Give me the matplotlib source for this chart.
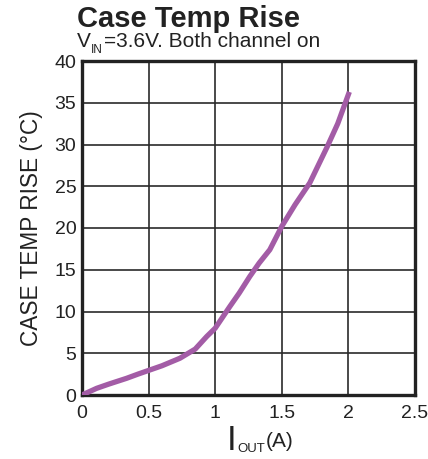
import matplotlib
matplotlib.use("Agg")
import matplotlib.pyplot as plt

plt.rcParams['font.family'] = ['Liberation Sans', 'DejaVu Sans']

# current (A) vs case temperature rise (°C)
iout = [0.0, 0.11, 0.2, 0.335, 0.42, 0.51, 0.6, 0.735, 0.85, 0.936, 1.0,
        1.11, 1.18, 1.26, 1.33, 1.41, 1.5, 1.6, 1.71, 1.84, 1.92, 2.007]
rise = [0.0, 0.8, 1.3, 2.0, 2.5, 3.0, 3.5, 4.4, 5.5, 7.0, 8.0,
        10.6, 12.2, 14.2, 15.8, 17.4, 20.2, 22.8, 25.4, 29.7, 32.5, 36.3]

xticks = [0, 0.5, 1, 1.5, 2, 2.5]
xticklabels = ['0', '0.5', '1', '1.5', '2', '2.5']
yticks = [0, 5, 10, 15, 20, 25, 30, 35, 40]

W, H = 428, 459
fig = plt.figure(figsize=(W / 100, H / 100), dpi=100)
ax = fig.add_axes([82/W, 1 - 395/H, (415-82)/W, (395-61)/H])

ax.plot(iout, rise, color='#a35ca6', lw=3.8, solid_capstyle='butt', zorder=3)

ax.set_xlim(0, 2.5)
ax.set_ylim(0, 40)
ax.set_xticks(xticks)
ax.set_xticklabels(xticklabels)
ax.set_yticks(yticks)
ax.grid(True, color='#2a2a2a', lw=1.2)
ax.tick_params(length=0, labelsize=14, colors='#222222')
ax.tick_params(axis='x', pad=7)
ax.tick_params(axis='y', pad=4)
for s in ax.spines.values():
    s.set_linewidth(2.4)
    s.set_color('#222222')

ax.set_ylabel('CASE TEMP RISE (°C)', fontsize=16.3, color='#222222', labelpad=8)

renderer = fig.canvas.get_renderer()


def chain(pieces, x0, y0):
    # pieces: (text, fontsize, baseline shift in px); each starts where the last ends
    x = x0
    for txt, size, dy in pieces:
        t = fig.text(x / W, 1 - (y0 + dy) / H, txt, fontsize=size,
                     color='#222222', va='baseline')
        x = t.get_window_extent(renderer).x1 + 0.5


# x label: big I, small OUT subscript, then (A)
chain([('I', 25, 0), ('OUT', 9.5, 2), ('(A)', 15, -3)], 227, 450)

fig.text(77/W, 1 - 27/H, 'Case Temp Rise', fontsize=21, fontweight='bold',
         color='#222222', va='baseline')
chain([('V', 15, 0), ('IN', 8.5, 6), ('=3.6V. Both channel on', 15, 0)], 77, 47)

fig.savefig('out.png', dpi=100)
